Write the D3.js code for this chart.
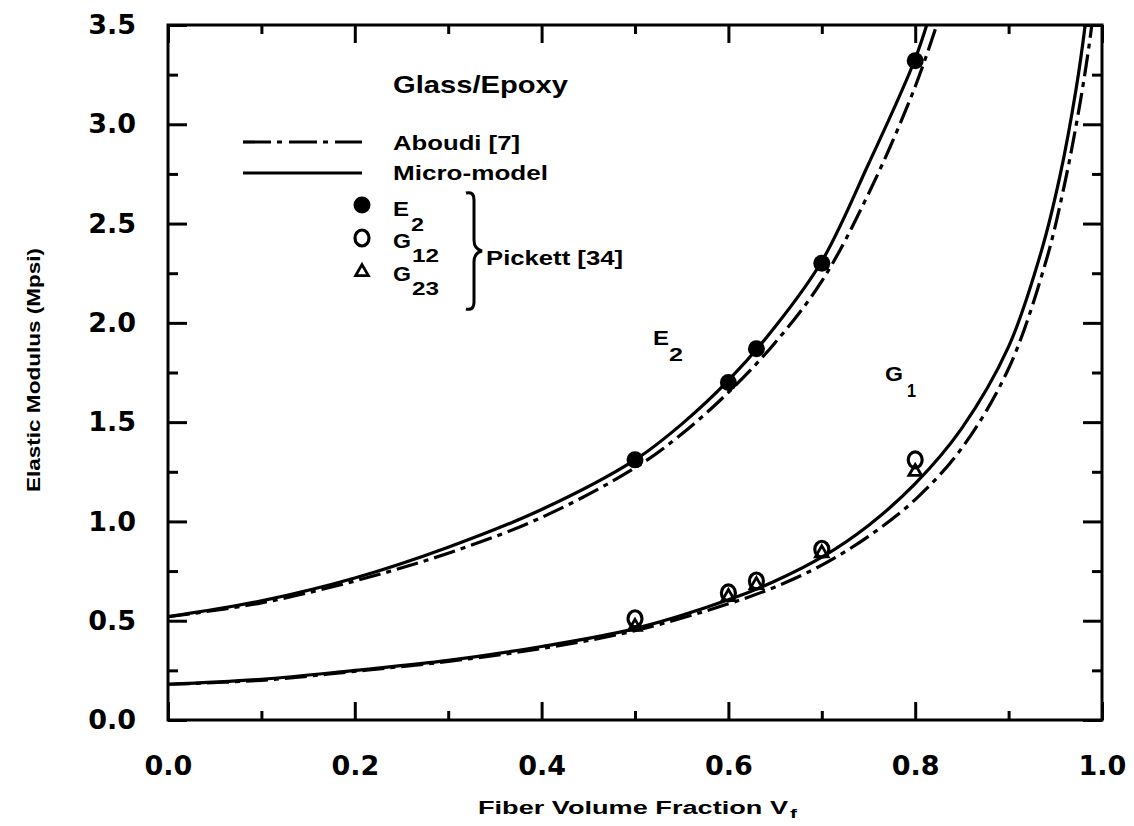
<!DOCTYPE html>
<html><head><meta charset="utf-8">
<script src="https://cdn.jsdelivr.net/npm/d3@7"></script>
<style>body{margin:0;background:#fff}svg{display:block}</style>
</head><body>
<svg id="c" width="1134" height="826"></svg>
<script>
// ---- data ----
const xTicksMajor = [0, 0.2, 0.4, 0.6, 0.8, 1.0];
const xTicksMinor = [0.1, 0.3, 0.5, 0.7, 0.9];
const yTicksMajor = [0, 0.5, 1.0, 1.5, 2.0, 2.5, 3.0, 3.5];
const yTicksMinor = [0.25, 0.75, 1.25, 1.75, 2.25, 2.75, 3.25];

const e2MicroVf  = [0, 0.1, 0.2, 0.3, 0.4, 0.5, 0.55, 0.6, 0.65, 0.7, 0.75, 0.8, 0.82];
const e2MicroVal = [0.52, 0.60, 0.715, 0.87, 1.06, 1.31, 1.49, 1.71, 1.98, 2.31, 2.80, 3.33, 3.62];
const e2AboudiVf  = [0, 0.1, 0.2, 0.3, 0.4, 0.5, 0.55, 0.6, 0.65, 0.7, 0.75, 0.8, 0.83];
const e2AboudiVal = [0.52, 0.59, 0.70, 0.84, 1.02, 1.27, 1.44, 1.65, 1.90, 2.21, 2.65, 3.19, 3.60];

const gMicroVf  = [0, 0.1, 0.2, 0.3, 0.4, 0.5, 0.6, 0.65, 0.7, 0.75, 0.8, 0.85, 0.9, 0.935, 0.955, 0.972, 0.982, 0.99];
const gMicroVal = [0.18, 0.205, 0.25, 0.30, 0.37, 0.46, 0.605, 0.70, 0.82, 0.98, 1.19, 1.47, 1.88, 2.36, 2.74, 3.17, 3.50, 3.85];
const gAboudiVf  = [0, 0.1, 0.2, 0.3, 0.4, 0.5, 0.6, 0.65, 0.7, 0.75, 0.8, 0.85, 0.9, 0.94, 0.96, 0.977, 0.988, 0.995];
const gAboudiVal = [0.18, 0.20, 0.245, 0.295, 0.36, 0.45, 0.585, 0.67, 0.78, 0.925, 1.11, 1.37, 1.77, 2.31, 2.70, 3.12, 3.46, 3.75];

const pickettVf  = [0.5, 0.6, 0.63, 0.7, 0.8];
const pickettE2  = [1.31, 1.70, 1.87, 2.30, 3.32];
const pickettG12 = [0.51, 0.64, 0.70, 0.86, 1.31];
const pickettG23 = [0.47, 0.62, 0.68, 0.84, 1.25];

// ---- drawing ----
const svg = d3.select('#c');
const x = d3.scaleLinear().domain([0, 1]).range([168, 1102]);
const y = d3.scaleLinear().domain([0, 3.5]).range([720, 25]);
const DASH = '22,6,5,6';
const tickFont = "'DejaVu Sans', sans-serif";
const txtFont = "'Liberation Sans', Arial, sans-serif";

svg.append('clipPath').attr('id', 'clip').append('rect')
  .attr('x', x(0)).attr('y', y(3.5)).attr('width', x(1) - x(0)).attr('height', y(0) - y(3.5));

function styleAxis(g) {
  g.select('.domain').remove();
  g.selectAll('line').attr('stroke', '#000').attr('stroke-width', 3);
  g.selectAll('text').attr('font-family', tickFont).attr('font-weight', 'bold').attr('font-size', 27).attr('fill', '#000');
}
// bottom
svg.append('g').attr('transform', `translate(0,${y(0)})`)
  .call(d3.axisBottom(x).tickValues(xTicksMajor).tickSize(-18).tickPadding(36).tickFormat(d3.format('.1f'))).call(styleAxis);
svg.append('g').attr('transform', `translate(0,${y(0)})`)
  .call(d3.axisBottom(x).tickValues(xTicksMinor).tickSize(-9).tickFormat('')).call(styleAxis);
// top
svg.append('g').attr('transform', `translate(0,${y(3.5)})`)
  .call(d3.axisTop(x).tickValues(xTicksMajor).tickSize(-18).tickFormat('')).call(styleAxis);
svg.append('g').attr('transform', `translate(0,${y(3.5)})`)
  .call(d3.axisTop(x).tickValues(xTicksMinor).tickSize(-9).tickFormat('')).call(styleAxis);
// left
svg.append('g').attr('transform', `translate(${x(0)},0)`)
  .call(d3.axisLeft(y).tickValues(yTicksMajor).tickSize(-19).tickPadding(32).tickFormat(d3.format('.1f'))).call(styleAxis);
svg.append('g').attr('transform', `translate(${x(0)},0)`)
  .call(d3.axisLeft(y).tickValues(yTicksMinor).tickSize(-10).tickFormat('')).call(styleAxis);
// right
svg.append('g').attr('transform', `translate(${x(1)},0)`)
  .call(d3.axisRight(y).tickValues(yTicksMajor).tickSize(-19).tickFormat('')).call(styleAxis);
svg.append('g').attr('transform', `translate(${x(1)},0)`)
  .call(d3.axisRight(y).tickValues(yTicksMinor).tickSize(-10).tickFormat('')).call(styleAxis);

// frame
svg.append('rect').attr('x', x(0)).attr('y', y(3.5)).attr('width', x(1) - x(0)).attr('height', y(0) - y(3.5))
  .attr('fill', 'none').attr('stroke', '#000').attr('stroke-width', 3);

// curves
const line = d3.line().x(d => x(d[0])).y(d => y(d[1])).curve(d3.curveCatmullRom.alpha(0.5));
const curves = [
  [e2MicroVf, e2MicroVal, null],
  [e2AboudiVf, e2AboudiVal, DASH],
  [gMicroVf, gMicroVal, null],
  [gAboudiVf, gAboudiVal, DASH]
];
const cg = svg.append('g').attr('clip-path', 'url(#clip)');
curves.forEach(([vx, vy, dash]) => {
  cg.append('path').datum(vx.map((v, i) => [v, vy[i]]))
    .attr('d', line).attr('fill', 'none').attr('stroke', '#000').attr('stroke-width', 3.2)
    .attr('stroke-dasharray', dash);
});

// markers
const tri = d3.symbol().type(d3.symbolTriangle).size(70);
function drawTri(g, cx, cy) {
  g.append('path').attr('d', tri()).attr('transform', `translate(${cx},${cy})`)
    .attr('fill', 'none').attr('stroke', '#000').attr('stroke-width', 2.8);
}
function drawOpen(g, cx, cy) {
  g.append('ellipse').attr('cx', cx).attr('cy', cy).attr('rx', 7).attr('ry', 8)
    .attr('fill', 'none').attr('stroke', '#000').attr('stroke-width', 3.2);
}
function drawFilled(g, cx, cy) {
  g.append('circle').attr('cx', cx).attr('cy', cy).attr('r', 8.5).attr('fill', '#000');
}
const mg = svg.append('g');
pickettVf.forEach((v, i) => {
  drawTri(mg, x(v), y(pickettG23[i]));
  drawOpen(mg, x(v), y(pickettG12[i]));
  drawFilled(mg, x(v), y(pickettE2[i]));
});

// texts
function txt(t, px, py, size, opts = {}) {
  const e = svg.append('text').attr('x', px).attr('y', py).text(t)
    .attr('font-family', opts.font || txtFont).attr('font-weight', 'bold')
    .attr('font-size', size).attr('fill', '#000').attr('dominant-baseline', 'central');
  if (opts.anchor) e.attr('text-anchor', opts.anchor);
  if (opts.len) e.attr('textLength', opts.len).attr('lengthAdjust', 'spacingAndGlyphs');
  return e;
}
txt('Glass/Epoxy', 393, 84, 24, {len: 175});
// legend lines
const legLine = d3.line();
svg.append('path').attr('d', legLine([[243, 142], [362, 142]])).attr('stroke', '#000').attr('stroke-width', 3.2)
  .attr('stroke-dasharray', '28,6,5,7').attr('fill', 'none');
svg.append('path').attr('d', legLine([[243, 173], [362, 173]])).attr('stroke', '#000').attr('stroke-width', 3.2).attr('fill', 'none');
txt('Aboudi [7]', 393, 142, 21, {len: 127});
txt('Micro-model', 393, 172, 21, {len: 155});
drawFilled(svg, 362, 205);
drawOpen(svg, 362, 238);
drawTri(svg, 362, 272);
txt('E', 393, 208, 21, {len: 16});
txt('2', 411, 224, 19, {len: 13});
txt('G', 393, 240, 21, {len: 18});
txt('12', 412, 255, 19, {len: 27});
txt('G', 393, 273, 21, {len: 18});
txt('23', 412, 288, 19, {len: 27});
// brace
svg.append('path')
  .attr('d', 'M466,193 Q474,191 474,200 L474,240 Q474,249 482,251 Q474,253 474,262 L474,302 Q474,311 466,309')
  .attr('fill', 'none').attr('stroke', '#000').attr('stroke-width', 3);
txt('Pickett [34]', 486, 257, 21, {len: 137});

// curve labels
txt('E', 653, 337, 21, {len: 16});
txt('2', 669, 354, 19, {len: 14});
txt('G', 885, 373, 21, {len: 18});
txt('1', 907, 390, 19, {len: 9});

// axis titles
svg.append('text').attr('transform', 'translate(34,370) rotate(-90)').text('Elastic Modulus (Mpsi)')
  .attr('font-family', txtFont).attr('font-weight', 'bold').attr('font-size', 18)
  .attr('text-anchor', 'middle').attr('dominant-baseline', 'central')
  .attr('textLength', 244).attr('lengthAdjust', 'spacingAndGlyphs');
txt('Fiber Volume Fraction V', 478, 808, 18, {len: 310});
txt('f', 790, 813, 13, {len: 7});
</script>
</body></html>
